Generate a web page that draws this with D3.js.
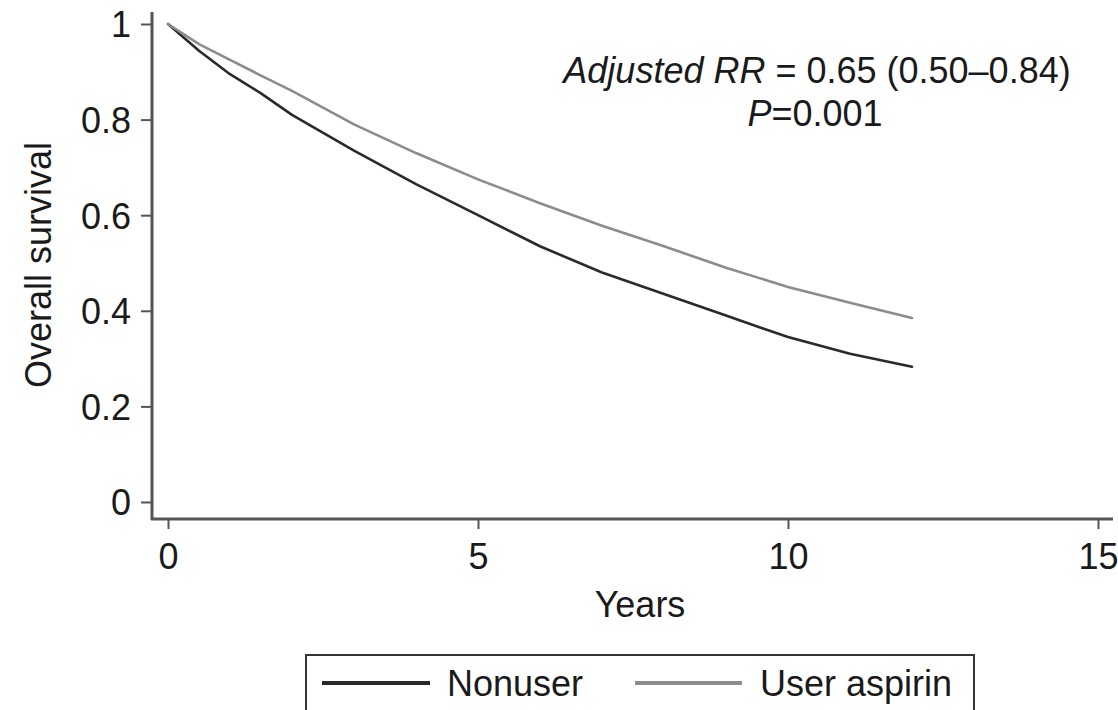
<!DOCTYPE html>
<html><head><meta charset="utf-8">
<script src="https://cdn.jsdelivr.net/npm/d3@7"></script>
<style>
html,body{margin:0;padding:0;background:#fff;}
svg{display:block;font-family:"Liberation Sans",Arial,Helvetica,sans-serif;}
</style></head>
<body><svg id="chart" width="1118" height="710"></svg>
<script>
const years = [0, 0.5, 1, 1.5, 2, 3, 4, 5, 6, 7, 8, 9, 10, 11, 12];
const nonuser = [1.0, 0.944, 0.895, 0.855, 0.81, 0.735, 0.665, 0.60, 0.535, 0.48, 0.435, 0.39, 0.345, 0.31, 0.283];
const aspirin = [1.0, 0.958, 0.925, 0.892, 0.86, 0.79, 0.73, 0.675, 0.625, 0.578, 0.535, 0.49, 0.45, 0.417, 0.385];
const xTicks = [0, 5, 10, 15];
const yTicks = [0, 0.2, 0.4, 0.6, 0.8, 1];
const yTickLabels = ["0", "0.2", "0.4", "0.6", "0.8", "1"];
const seriesNames = ["Nonuser", "User aspirin"];
const seriesColors = ["#2a2a2a", "#8c8c8c"];

const svg = d3.select("#chart");
const x = d3.scaleLinear().domain([0, 15]).range([168, 1098]);
const y = d3.scaleLinear().domain([0, 1]).range([502, 24]);
const axisColor = "#555";
const textColor = "#1a1a1a";
const fs = 36;

// axis lines (extend slightly beyond range, Stata style)
svg.append("line").attr("x1", 152).attr("x2", 152).attr("y1", 12).attr("y2", 520)
  .attr("stroke", axisColor).attr("stroke-width", 3);
svg.append("line").attr("x1", 151).attr("x2", 1113).attr("y1", 519).attr("y2", 519)
  .attr("stroke", axisColor).attr("stroke-width", 3);

// y axis
const yAxis = d3.axisLeft(y).tickValues(yTicks).tickFormat((d, i) => yTickLabels[i]).tickSize(10).tickPadding(10);
const gy = svg.append("g").attr("transform", "translate(151,0)").call(yAxis);
gy.select(".domain").remove();
gy.selectAll(".tick line").attr("stroke", axisColor).attr("stroke-width", 2);
gy.selectAll(".tick text").attr("font-size", fs).attr("fill", textColor)
  .attr("font-family", "'Liberation Sans',Arial,sans-serif").attr("dy", "0.36em");

// x axis
const xAxis = d3.axisBottom(x).tickValues(xTicks).tickFormat(d3.format("d")).tickSize(10).tickPadding(14);
const gx = svg.append("g").attr("transform", "translate(0,519)").call(xAxis);
gx.select(".domain").remove();
gx.selectAll(".tick line").attr("stroke", axisColor).attr("stroke-width", 2);
gx.selectAll(".tick text").attr("font-size", fs).attr("fill", textColor)
  .attr("font-family", "'Liberation Sans',Arial,sans-serif");

// axis titles
svg.append("text").attr("x", 640).attr("y", 617).attr("text-anchor", "middle")
  .attr("font-size", fs).attr("fill", textColor).text("Years");
svg.append("text").attr("transform", "translate(51,265) rotate(-90)").attr("text-anchor", "middle")
  .attr("font-size", fs).attr("fill", textColor).text("Overall survival");

// curves
const line = d3.line().x(d => x(d[0])).y(d => y(d[1]));
[nonuser, aspirin].forEach((vals, i) => {
  svg.append("path").datum(years.map((t, j) => [t, vals[j]]))
    .attr("d", line).attr("fill", "none")
    .attr("stroke", seriesColors[i]).attr("stroke-width", 2.6)
    .attr("stroke-linejoin", "round").attr("stroke-linecap", "round");
});

// annotation
const t1 = svg.append("text").attr("x", 817).attr("y", 83).attr("text-anchor", "middle")
  .attr("font-size", fs).attr("fill", textColor);
t1.append("tspan").attr("font-style", "italic").text("Adjusted RR");
t1.append("tspan").text(" = 0.65 (0.50\u20130.84)");
const t2 = svg.append("text").attr("x", 815).attr("y", 126).attr("text-anchor", "middle")
  .attr("font-size", fs).attr("fill", textColor);
t2.append("tspan").attr("font-style", "italic").text("P");
t2.append("tspan").text("=0.001");

// legend
svg.append("rect").attr("x", 306).attr("y", 655).attr("width", 668).attr("height", 80)
  .attr("fill", "#fff").attr("stroke", "#333").attr("stroke-width", 2);
const legX = [[322, 430, 447], [635, 742, 760]];
seriesNames.forEach((name, i) => {
  svg.append("line").attr("x1", legX[i][0]).attr("x2", legX[i][1]).attr("y1", 683).attr("y2", 683)
    .attr("stroke", seriesColors[i]).attr("stroke-width", 4);
  svg.append("text").attr("x", legX[i][2]).attr("y", 696).attr("font-size", fs)
    .attr("fill", textColor).text(name);
});
</script></body></html>
